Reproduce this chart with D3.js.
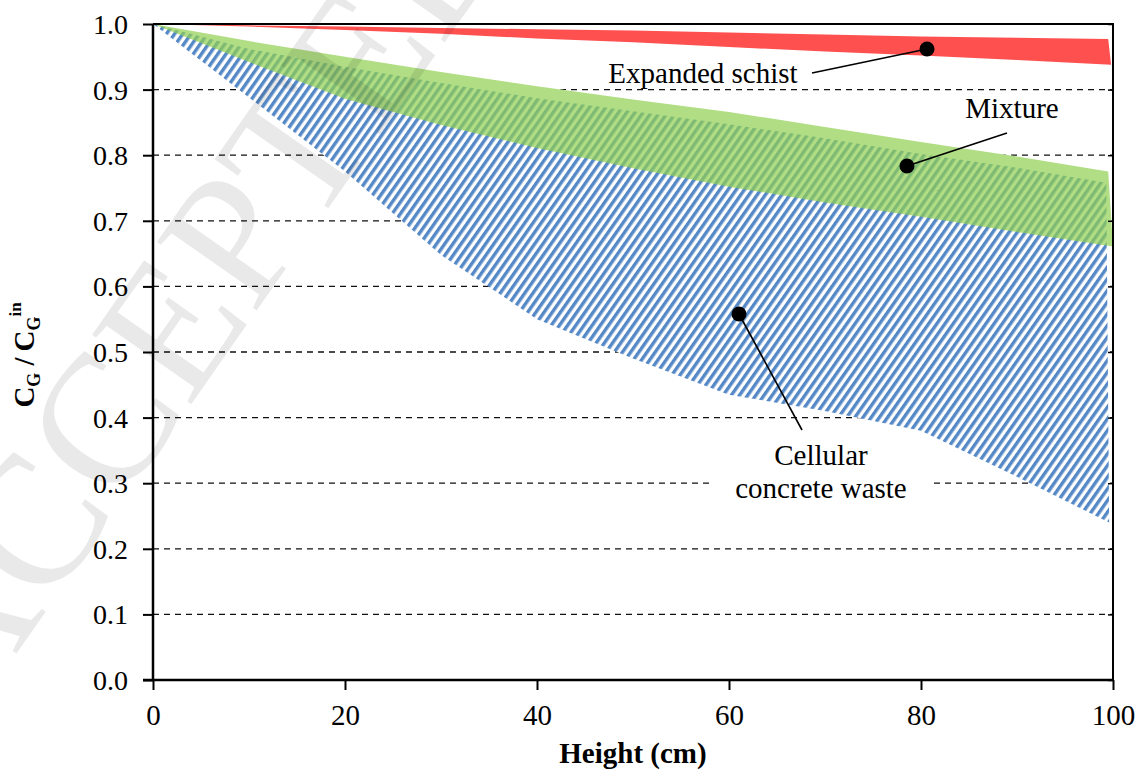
<!DOCTYPE html>
<html>
<head>
<meta charset="utf-8">
<script src="https://cdn.jsdelivr.net/npm/d3@7"></script>
<style>
  body { margin: 0; background: #fff; }
  svg, svg text { font-family: "Liberation Serif", "Times New Roman", Tinos, "DejaVu Serif", serif; }
</style>
</head>
<body>
<svg id="chart" width="1139" height="771"></svg>
<script>
// Values (C_G / C_G_in against height)
var heights = [0, 10, 20, 30, 40, 50, 60, 70, 80, 90, 100];
var schistTop = [1.0, 0.998, 0.996, 0.994, 0.992, 0.990, 0.987, 0.984, 0.981, 0.979, 0.977];
var schistBottom = [1.0, 0.996, 0.991, 0.985, 0.978, 0.972, 0.965, 0.958, 0.952, 0.945, 0.938];
var mixtureTop = [1.0, 0.974, 0.950, 0.927, 0.905, 0.885, 0.866, 0.843, 0.820, 0.798, 0.775];
var mixtureBottom = [1.0, 0.942, 0.886, 0.846, 0.811, 0.780, 0.752, 0.728, 0.706, 0.683, 0.661];
var concreteTop = [1.0, 0.962, 0.935, 0.910, 0.887, 0.867, 0.847, 0.826, 0.802, 0.781, 0.758];
var concreteBottom = [1.0, 0.888, 0.775, 0.648, 0.550, 0.490, 0.435, 0.410, 0.380, 0.310, 0.240];
// the upper edges stop a little short of 100 cm
var topEnd = 99.5;

var xTicks = [0, 20, 40, 60, 80, 100];
var yTicks = [0, 0.1, 0.2, 0.3, 0.4, 0.5, 0.6, 0.7, 0.8, 0.9, 1.0];

var serif = '"Liberation Serif", "Times New Roman", Tinos, "DejaVu Serif", serif';

var svg = d3.select('#chart');

var x = d3.scaleLinear().domain([0, 100]).range([153, 1113]);
var y = d3.scaleLinear().domain([0, 1]).range([680, 24]);

// hatch used for the cellular concrete band
var defs = svg.append('defs');
var hatch = defs.append('pattern')
  .attr('id', 'hatch')
  .attr('patternUnits', 'userSpaceOnUse')
  .attr('width', 6.7).attr('height', 10)
  .attr('patternTransform', 'rotate(35)');
hatch.append('rect').attr('width', 6.7).attr('height', 10).attr('fill', '#fff');
hatch.append('rect').attr('width', 3.4).attr('height', 10).attr('fill', '#5588c6');

// polygon from an upper and a lower edge
function band(top, bottom, endTop, endBottom) {
  var pts = [];
  heights.forEach(function(h, i) {
    var hx = (i == heights.length - 1) ? endTop : h;
    pts.push([x(hx), y(top[i])]);
  });
  for (var i = heights.length - 1; i >= 0; i--) {
    var hx = (i == heights.length - 1) ? endBottom : heights[i];
    pts.push([x(hx), y(bottom[i])]);
  }
  return 'M' + pts.join('L') + 'Z';
}

/////////// Grid ///////////
svg.append('g').selectAll('line')
  .data(yTicks.filter(function(d) { return d > 0 && d < 1; }))
  .enter().append('line')
    .attr('x1', x(0)).attr('x2', x(100))
    .attr('y1', function(d) { return y(d); })
    .attr('y2', function(d) { return y(d); })
    .attr('stroke', '#111')
    .attr('stroke-width', 1.3)
    .attr('stroke-dasharray', '6,5');

/////////// Bands ///////////
svg.append('path').attr('d', band(mixtureTop, mixtureBottom, topEnd, 100)).attr('fill', '#fff');
svg.append('path').attr('d', band(concreteTop, concreteBottom, 99.3, 99.6)).attr('fill', 'url(#hatch)');
svg.append('path').attr('d', band(mixtureTop, mixtureBottom, topEnd, 100)).attr('fill', 'rgba(144,208,80,0.7)');
svg.append('path').attr('d', band(schistTop, schistBottom, topEnd, 99.8)).attr('fill', '#ff5050');

/////////// Axes ///////////
var yAxis = d3.axisLeft(y).tickValues(yTicks).tickSize(10).tickFormat(d3.format('.1f'));
var gy = svg.append('g').attr('transform', 'translate(' + x(0) + ',0)').call(yAxis);
gy.attr('font-family', serif);
gy.select('.domain').remove();
gy.selectAll('.tick line').attr('stroke', '#000').attr('stroke-width', 2);
gy.selectAll('.tick text')
  .attr('x', -25).attr('dy', '0.34em')
  .attr('font-size', 28).attr('fill', '#000');

var yRight = d3.axisLeft(y).tickValues(yTicks).tickSize(5).tickFormat('');
var gr = svg.append('g').attr('transform', 'translate(' + x(100) + ',0)').call(yRight);
gr.select('.domain').remove();
gr.selectAll('.tick text').remove();
gr.selectAll('.tick line').attr('stroke', '#000').attr('stroke-width', 1.5);

var xAxis = d3.axisBottom(x).tickValues(xTicks).tickSize(10).tickFormat(d3.format('d'));
var gx = svg.append('g').attr('transform', 'translate(0,' + y(0) + ')').call(xAxis);
gx.attr('font-family', serif);
gx.select('.domain').remove();
gx.selectAll('.tick line').attr('stroke', '#000').attr('stroke-width', 2);
gx.selectAll('.tick text')
  .attr('y', 45).attr('dy', 0)
  .attr('font-size', 29).attr('fill', '#000');

// frame
svg.append('line').attr('x1', x(0)).attr('x2', x(0)).attr('y1', y(1)).attr('y2', y(0) + 1)
  .attr('stroke', '#000').attr('stroke-width', 2.5);
svg.append('line').attr('x1', x(0) - 10).attr('x2', x(100) + 1).attr('y1', y(0)).attr('y2', y(0))
  .attr('stroke', '#000').attr('stroke-width', 2.5);
svg.append('line').attr('x1', x(0)).attr('x2', x(100) + 1).attr('y1', y(1)).attr('y2', y(1))
  .attr('stroke', '#000').attr('stroke-width', 2);
svg.append('line').attr('x1', x(100)).attr('x2', x(100)).attr('y1', y(1)).attr('y2', y(0))
  .attr('stroke', '#000').attr('stroke-width', 2);

/////////// Labels ///////////
svg.append('text')
  .attr('x', (x(0) + x(100)) / 2).attr('y', 763)
  .attr('text-anchor', 'middle')
  .attr('font-family', serif)
  .attr('font-size', 29).attr('font-weight', 'bold')
  .text('Height (cm)');

var yl = svg.append('text')
  .attr('transform', 'translate(34,355) rotate(-90)')
  .attr('text-anchor', 'middle')
  .attr('font-family', serif)
  .attr('font-weight', 'bold')
  .attr('font-size', 29);
yl.append('tspan').text('C');
yl.append('tspan').attr('font-size', 18).attr('dy', 6).text('G');
yl.append('tspan').attr('dy', -6).text(' /\u2009C');
yl.append('tspan').attr('font-size', 18).attr('dy', 6).text('G');
yl.append('tspan').attr('font-size', 17).attr('dy', -19).text('in');

/////////// Annotations ///////////
var notes = [
  {lines: ['Expanded schist'], tx: 703, ty: 83, from: [812, 73], dot: [927, 49]},
  {lines: ['Mixture'], tx: 1012, ty: 118, from: [1007, 133], dot: [907, 166]},
  {lines: ['Cellular', 'concrete waste'], tx: 821, ty: 465, from: [802, 430], dot: [739, 314]}
];

// white box behind the lower label cuts the 0.3 gridline
svg.append('rect').attr('x', 713).attr('y', 437).attr('width', 217).attr('height', 70).attr('fill', '#fff');

notes.forEach(function(n) {
  svg.append('line')
    .attr('x1', n.from[0]).attr('y1', n.from[1])
    .attr('x2', n.dot[0]).attr('y2', n.dot[1])
    .attr('stroke', '#000').attr('stroke-width', 1.6);
  svg.append('circle')
    .attr('cx', n.dot[0]).attr('cy', n.dot[1]).attr('r', 7.5)
    .attr('fill', '#000');
  n.lines.forEach(function(t, i) {
    svg.append('text')
      .attr('x', n.tx).attr('y', n.ty + i * 33)
      .attr('text-anchor', 'middle')
      .attr('font-family', serif)
      .attr('font-size', 29)
      .text(t);
  });
});

/////////// Watermark ///////////
svg.append('text')
  .attr('transform', 'translate(-30,720) rotate(-55)')
  .attr('font-family', serif)
  .attr('font-size', 185)
  .attr('fill', 'rgba(0,0,0,0.085)')
  .attr('pointer-events', 'none')
  .text('ACCEPTED');
</script>
</body>
</html>
